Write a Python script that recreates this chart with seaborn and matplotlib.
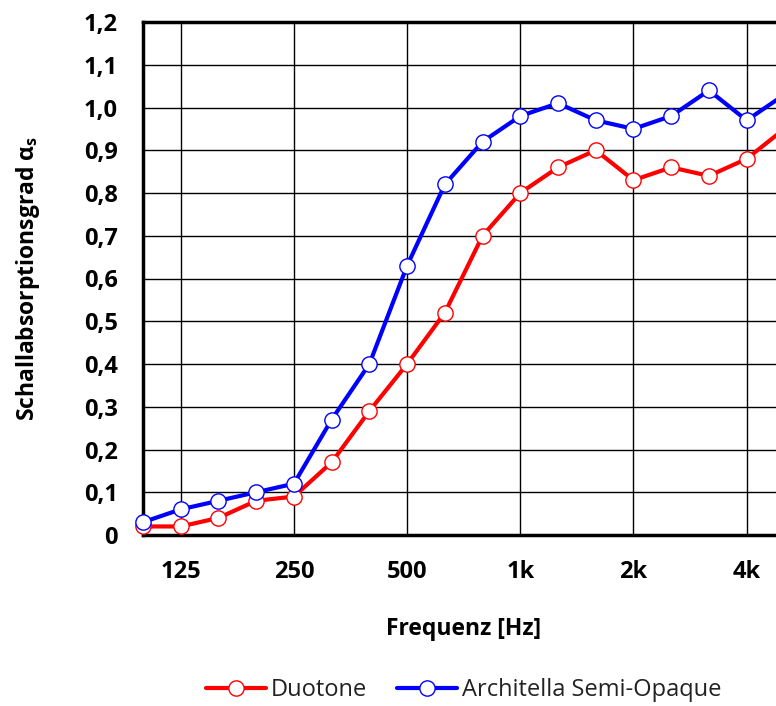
import matplotlib
matplotlib.use("Agg")
import matplotlib.pyplot as plt
import seaborn as sns
import pandas as pd
import numpy as np

# Third-octave bands 100 Hz .. 5 kHz
bands = ["100", "125", "160", "200", "250", "315", "400", "500", "630", "800",
         "1k", "1.25k", "1.6k", "2k", "2.5k", "3.15k", "4k", "5k"]
duotone = [0.02, 0.02, 0.04, 0.08, 0.09, 0.17, 0.29, 0.40, 0.52, 0.70,
           0.80, 0.86, 0.90, 0.83, 0.86, 0.84, 0.88, 0.95]
architella = [0.03, 0.06, 0.08, 0.10, 0.12, 0.27, 0.40, 0.63, 0.82, 0.92,
              0.98, 1.01, 0.97, 0.95, 0.98, 1.04, 0.97, 1.03]
tick_bands = ["125", "250", "500", "1k", "2k", "4k"]
ytick_vals = [0.0, 0.1, 0.2, 0.3, 0.4, 0.5, 0.6, 0.7, 0.8, 0.9, 1.0, 1.1, 1.2]
series_names = ["Duotone", "Architella Semi-Opaque"]
series_colors = ["#ff0000", "#0000ff"]

sns.set_theme(style="white")
plt.rcParams["font.family"] = ["Open Sans", "DejaVu Sans"]
plt.rcParams["mathtext.fontset"] = "custom"
plt.rcParams["mathtext.rm"] = "Open Sans"
plt.rcParams["mathtext.bf"] = "Open Sans:bold"

W, H = 776, 706
fig = plt.figure(figsize=(W / 100, H / 100), dpi=100)
left_px, top_px, bottom_px = 143, 22, 535
step = 37.73
right_px = left_px + step * (len(bands) - 1)
ax = fig.add_axes([left_px / W, (H - bottom_px) / H,
                   (right_px - left_px) / W, (bottom_px - top_px) / H])

idx = np.arange(len(bands))
df = pd.DataFrame({"x": np.concatenate([idx, idx]),
                   "y": duotone + architella,
                   "series": [series_names[0]] * len(bands) + [series_names[1]] * len(bands)})

for name, col in zip(series_names, series_colors):
    sub = df[df["series"] == name]
    sns.lineplot(data=sub, x="x", y="y", ax=ax, color=col, linewidth=3.0,
                 marker="o", markersize=11, markerfacecolor="white",
                 markeredgecolor=col, markeredgewidth=1.0, label=name,
                 clip_on=False, zorder=3)

ax.set_xlim(0, len(bands) - 1)
ax.set_ylim(0, 1.2)
ax.set_xticks([bands.index(b) for b in tick_bands])
ax.set_xticklabels(tick_bands)
ax.set_yticks(ytick_vals)
ax.set_yticklabels(["0" if v == 0 else f"{v:.1f}".replace(".", ",") for v in ytick_vals])
ax.tick_params(axis="both", length=0, labelsize=17)
ax.tick_params(axis="y", pad=18)
ax.tick_params(axis="x", pad=18)
for lab in ax.get_xticklabels() + ax.get_yticklabels():
    lab.set_fontweight("bold")
    lab.set_color("black")

ax.grid(True, color="black", linewidth=1.0)
for s in ["left", "top", "bottom", "right"]:
    ax.spines[s].set_color("black")
    ax.spines[s].set_linewidth(2.5)

ax.set_xlabel("Frequenz [Hz]", fontsize=16.5, fontweight="bold", color="black", labelpad=24)
ax.set_ylabel("Schallabsorptionsgrad α$_\\mathbf{s}$", fontsize=16.5, fontweight="bold",
              color="black", labelpad=30)

leg = ax.legend(loc="center", bbox_to_anchor=(0.5, -0.303), ncol=2, frameon=False,
                fontsize=17, handlelength=2.55, columnspacing=1.25, handletextpad=0.2)
for t in leg.get_texts():
    t.set_color("#222222")

fig.savefig("out.png", dpi=100)
